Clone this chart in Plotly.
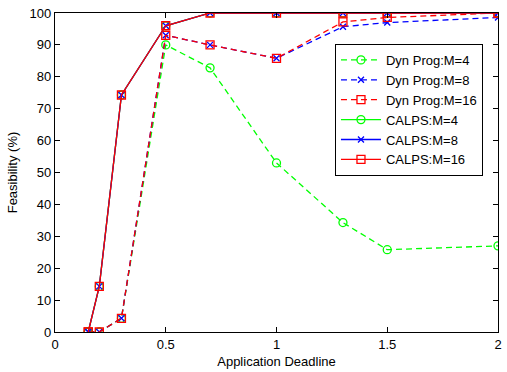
import plotly.graph_objects as go

deadline = [0.15, 0.2, 0.3, 0.5, 0.7, 1.0, 1.3, 1.5, 2.0]
dyn_m4 = [0, 0, 4.3, 90, 82.8, 53, 34.3, 25.8, 27]
dyn_m8 = [0, 0, 4.3, 93, 90, 85.8, 95.7, 97, 98.6]
dyn_m16 = [0, 0, 4.3, 93, 90, 85.8, 97.2, 98.6, 100]
calps_m4 = [0, 14.3, 74.3, 96, 100, 100, 100, 100, 100]
calps_m8 = [0, 14.3, 74.3, 96, 100, 100, 100, 100, 100]
calps_m16 = [0, 14.3, 74.3, 96, 100, 100, 100, 100, 100]

GREEN = "rgb(0,255,0)"
BLUE = "rgb(0,0,255)"
RED = "rgb(255,0,0)"

series = [
    ("Dyn Prog:M=4", dyn_m4, GREEN, "6px,4px", "circle-open", 8),
    ("Dyn Prog:M=8", dyn_m8, BLUE, "6px,4px", "x-thin-open", 6),
    ("Dyn Prog:M=16", dyn_m16, RED, "6px,4px", "square-open", 8),
    ("CALPS:M=4", calps_m4, GREEN, "solid", "circle-open", 8),
    ("CALPS:M=8", calps_m8, BLUE, "solid", "x-thin-open", 6),
    ("CALPS:M=16", calps_m16, RED, "solid", "square-open", 8),
]

fig = go.Figure()
for name, ys, col, dash, sym, sz in series:
    fig.add_trace(go.Scatter(
        x=deadline, y=ys, name=name, mode="lines+markers",
        line=dict(color=col, width=1.3, dash=dash),
        marker=dict(symbol=sym, size=sz, color=col, line=dict(color=col, width=1.3)),
    ))

font = "Liberation Sans, Arial, Helvetica, sans-serif"
axis_common = dict(
    showline=True, linecolor="black", linewidth=1.3, mirror="allticks",
    ticks="inside", ticklen=5, tickcolor="black", tickwidth=1,
    showgrid=False, zeroline=False,
    tickfont=dict(family=font, size=13, color="black"),
)
fig.update_layout(
    width=507, height=372,
    margin=dict(l=55, r=5, t=13, b=38),
    paper_bgcolor="white", plot_bgcolor="white",
    font=dict(family=font, size=13, color="black"),
    showlegend=True,
    legend=dict(
        x=0.632, y=0.903, xanchor="left", yanchor="top",
        bgcolor="white", bordercolor="black", borderwidth=1,
        font=dict(family=font, size=13, color="black"),
        tracegroupgap=0, itemwidth=40,
    ),
    xaxis=dict(range=[0, 2], tickvals=[0, 0.5, 1, 1.5, 2],
               ticktext=["0", "0.5", "1", "1.5", "2"],
               title=dict(text="Application Deadline", standoff=6,
                          font=dict(family=font, size=13)), **axis_common),
    yaxis=dict(range=[0, 100], tickvals=list(range(0, 101, 10)),
               title=dict(text="Feasibility (%)", standoff=8,
                          font=dict(family=font, size=13)), **axis_common),
)

fig.write_html("out.html")
